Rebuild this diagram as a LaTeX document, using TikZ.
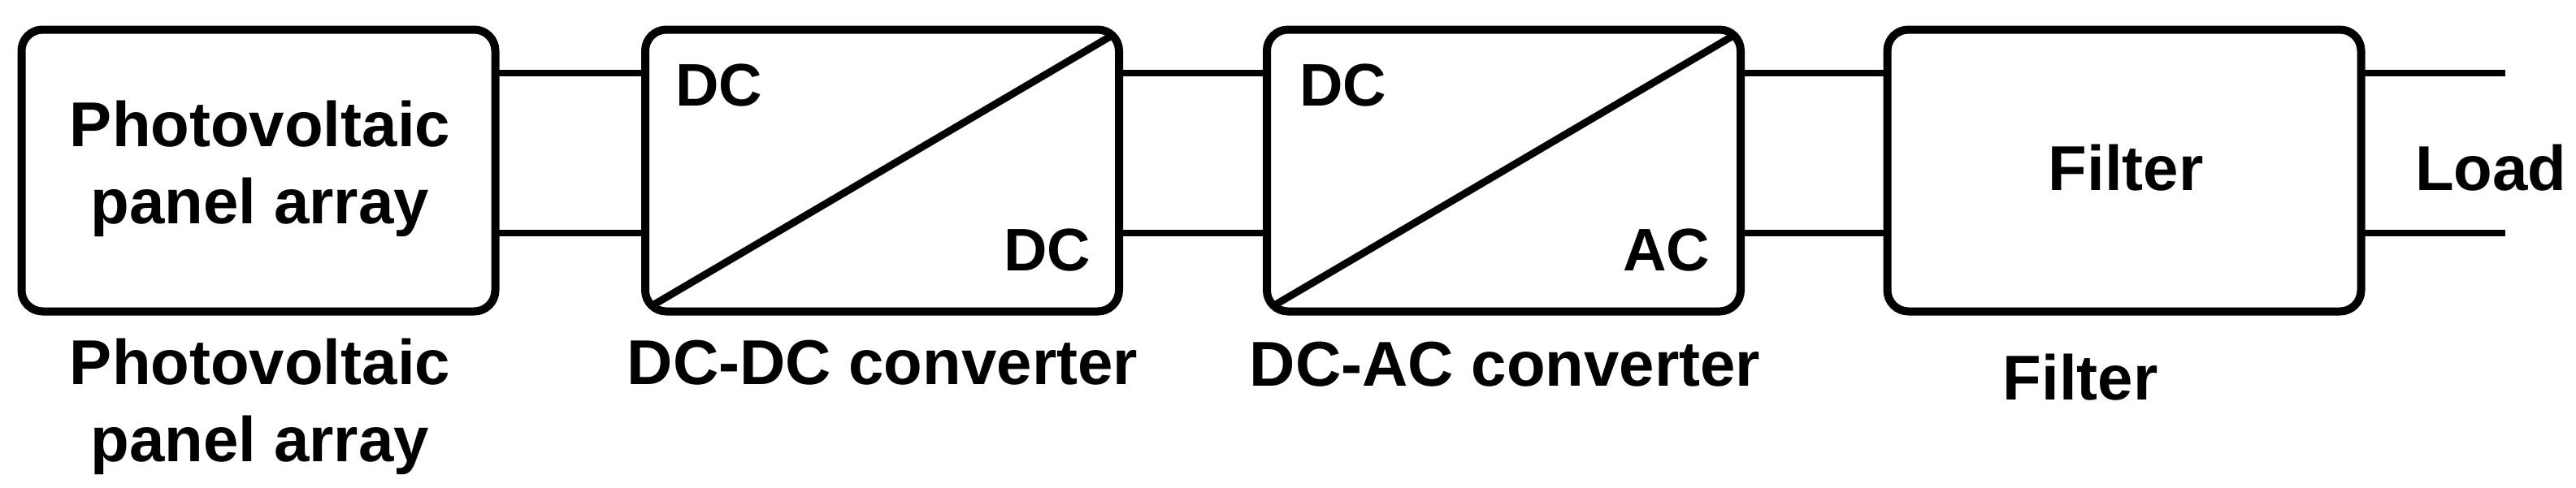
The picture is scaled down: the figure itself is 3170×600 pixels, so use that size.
\documentclass[tikz,border=0pt]{standalone}
\usepackage{fontspec}
\setmainfont{Liberation Sans}
\begin{document}
\begin{tikzpicture}[x=1pt,y=-1pt,
  blockbox/.style={draw, line width=10pt, rounded corners=26pt, minimum width=583pt,
    minimum height=347pt, outer sep=0pt, inner sep=0pt},
  wire/.style={line width=8pt},
  diag/.style={line width=9pt},
  txt/.style={inner sep=0pt, outer sep=0pt, font=\fontsize{78}{95}\selectfont\bfseries},
  tag/.style={inner sep=0pt, outer sep=0pt, font=\fontsize{74}{90}\selectfont\bfseries}]
\useasboundingbox (0,0) rectangle (3170,600);

% blocks
\node[blockbox] (b1) at (318,210) {};
\node[blockbox] (b2) at (1085.5,210) {};
\node[blockbox] (b3) at (1850.5,210) {};
\node[blockbox] (b4) at (2614,210) {};

% diagonals
\draw[diag] ([shift={(10,-8)}]b2.south west) -- ([shift={(-10,8)}]b2.north east);
\draw[diag] ([shift={(10,-8)}]b3.south west) -- ([shift={(-10,8)}]b3.north east);

% wire levels
\coordinate (o1) at (3083,90);
\coordinate (o2) at (3083,287);

\draw[wire] (b1.east |- o1) -- (b2.west |- o1);
\draw[wire] (b1.east |- o2) -- (b2.west |- o2);
\draw[wire] (b2.east |- o1) -- (b3.west |- o1);
\draw[wire] (b2.east |- o2) -- (b3.west |- o2);
\draw[wire] (b3.east |- o1) -- (b4.west |- o1);
\draw[wire] (b3.east |- o2) -- (b4.west |- o2);
\draw[wire] (b4.east |- o1) -- (o1);
\draw[wire] (b4.east |- o2) -- (o2);

% texts inside blocks
\node[txt, anchor=base] (t1a) at (320,180) {Photovoltaic};
\node[txt, anchor=base] (t1b) at (320,275) {panel array};
\node[tag, anchor=base west] (t2a) at (831,130) {DC};
\node[tag, anchor=base east] (t2b) at (1342,333) {DC};
\node[tag, anchor=base west] (t3a) at (1599,130) {DC};
\node[tag, anchor=base east] (t3b) at (2104,333) {AC};
\node[txt, anchor=base] (t4) at (2616,234) {Filter};
\node[txt, anchor=base west] (load) at (2972,234) {Load};

% captions
\node[txt, anchor=base] (c1a) at (320,473) {Photovoltaic};
\node[txt, anchor=base] (c1b) at (320,568) {panel array};
\node[txt, anchor=base] (c2) at (1086,473) {DC-DC converter};
\node[txt, anchor=base] (c3) at (1852,475) {DC-AC converter};
\node[txt, anchor=base] (c4) at (2560,492) {Filter};
\end{tikzpicture}
\end{document}
